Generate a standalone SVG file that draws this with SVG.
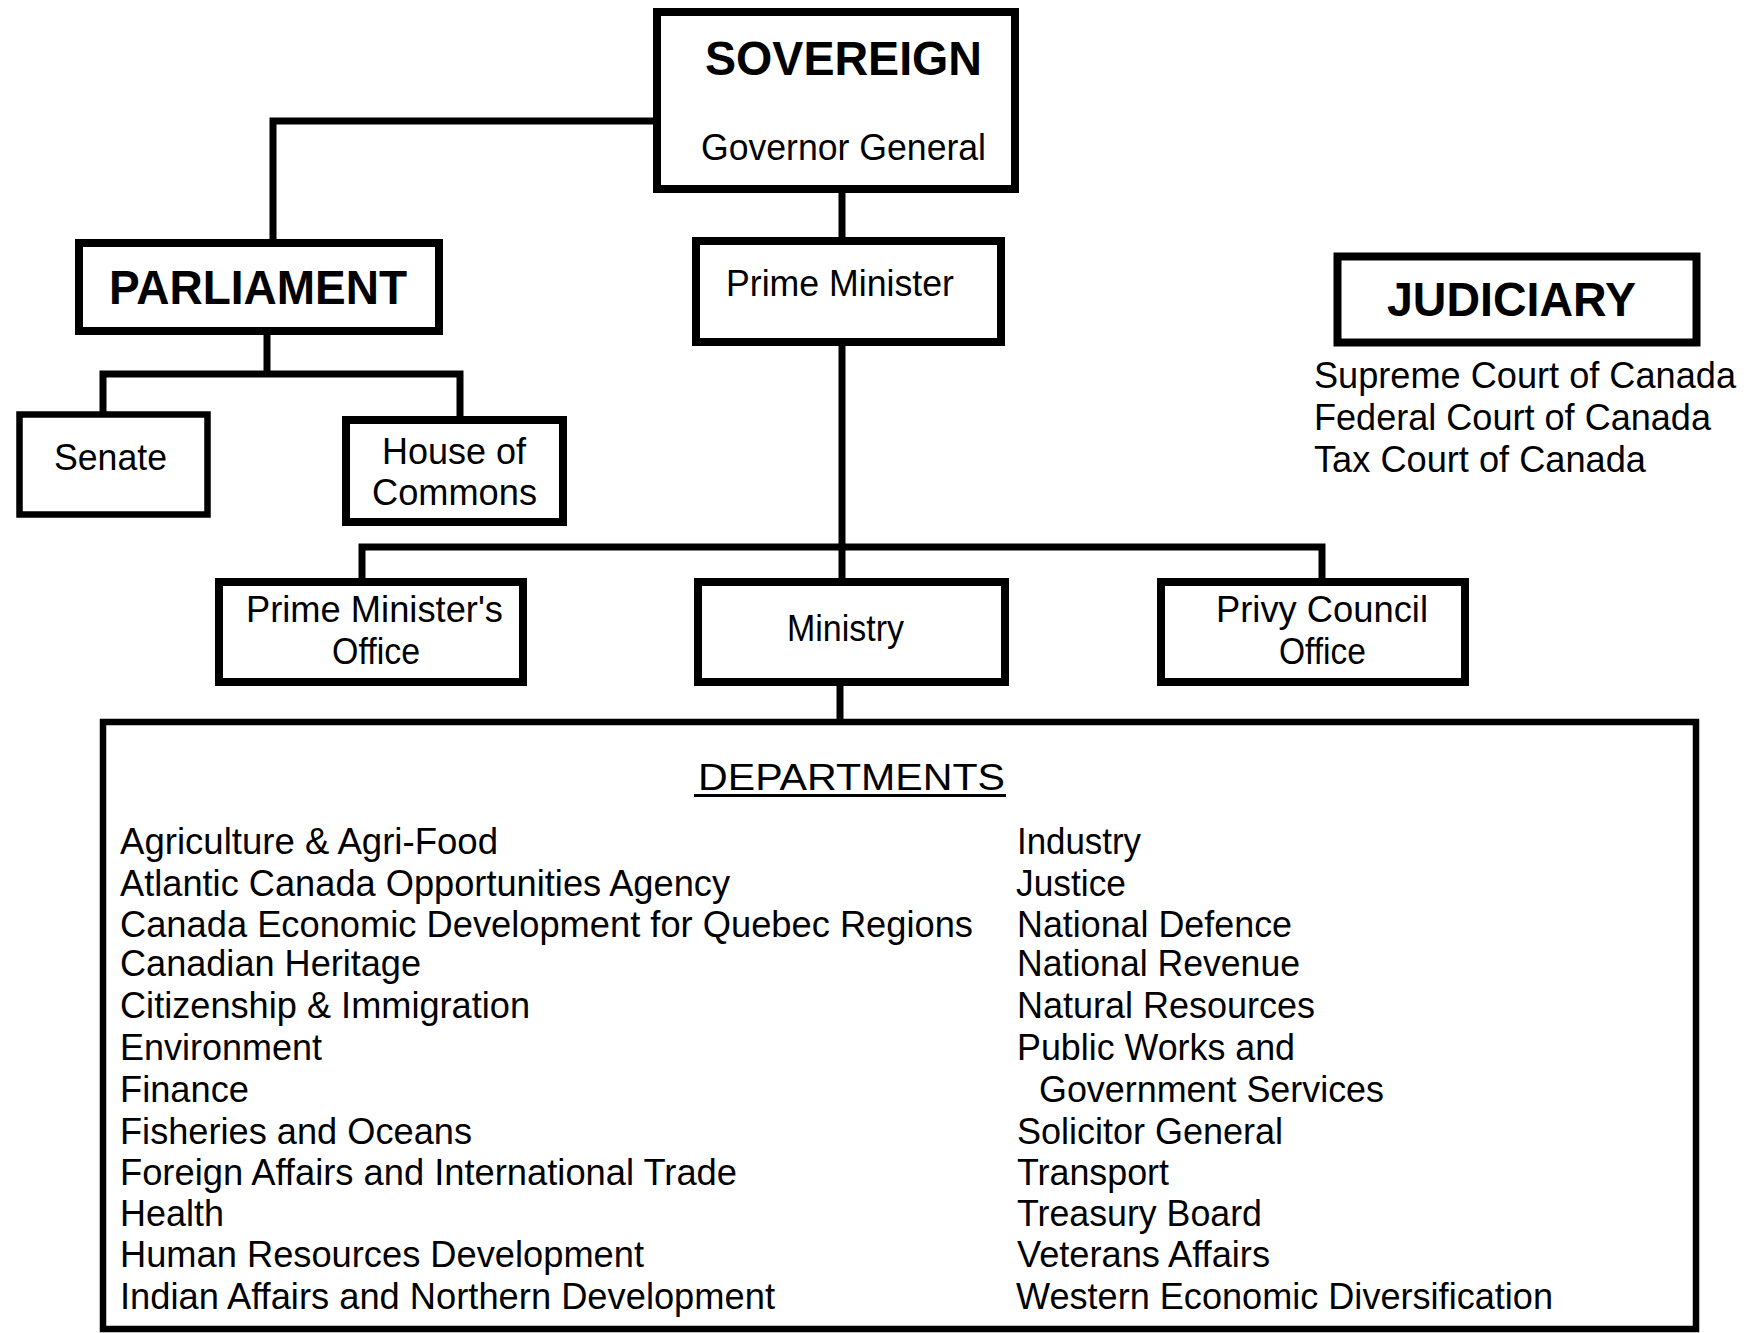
<svg xmlns="http://www.w3.org/2000/svg" width="1758" height="1333" viewBox="0 0 1758 1333">
<style>
.box{fill:#fff;stroke:#000;stroke-width:8}
.thin{stroke-width:6.5}
.conn{fill:none;stroke:#000;stroke-width:7}
text{font-family:"Liberation Sans",Arial,sans-serif;fill:#000}
.t{font-size:36px}
.b{font-size:48px;font-weight:bold}
</style>
<rect width="1758" height="1333" fill="#fff"/>
<g id="connectors">
<path class="conn" d="M657 121 H273 V243"/>
<path class="conn" d="M842 193 V241"/>
<path class="conn" d="M267 335 V374"/>
<path class="conn" d="M103 414 V374 H460 V420"/>
<path class="conn" d="M842 346 V582"/>
<path class="conn" d="M362 582 V547 H1322 V582"/>
<path class="conn" d="M840 686 V722"/>
</g>
<g id="sovereign">
<rect class="box" x="657" y="12" width="358" height="177"/>
<text class="b" x="705" y="75" font-size="46" textLength="277" lengthAdjust="spacingAndGlyphs">SOVEREIGN</text>
<text class="t" x="701" y="160" textLength="285" lengthAdjust="spacingAndGlyphs">Governor General</text>
</g>
<g id="parliament">
<rect class="box" x="79" y="243" width="360" height="88"/>
<text class="b" x="109" y="304" textLength="298" lengthAdjust="spacingAndGlyphs">PARLIAMENT</text>
</g>
<g id="senate">
<rect class="box thin" x="19.5" y="414.5" width="188" height="100"/>
<text class="t" x="54" y="470" textLength="113" lengthAdjust="spacingAndGlyphs">Senate</text>
</g>
<g id="house">
<rect class="box" x="346" y="420" width="217" height="102"/>
<text class="t" x="382" y="464" textLength="144" lengthAdjust="spacingAndGlyphs">House of</text>
<text class="t" x="372" y="505" textLength="165" lengthAdjust="spacingAndGlyphs">Commons</text>
</g>
<g id="prime-minister">
<rect class="box" x="696" y="241" width="305" height="101"/>
<text class="t" x="726" y="296" textLength="228" lengthAdjust="spacingAndGlyphs">Prime Minister</text>
</g>
<g id="judiciary">
<rect class="box" x="1337.5" y="256.5" width="359" height="86"/>
<text class="b" x="1387" y="316" textLength="249" lengthAdjust="spacingAndGlyphs">JUDICIARY</text>
<text class="t" x="1314" y="388" textLength="422" lengthAdjust="spacingAndGlyphs">Supreme Court of Canada</text>
<text class="t" x="1314" y="430" textLength="397" lengthAdjust="spacingAndGlyphs">Federal Court of Canada</text>
<text class="t" x="1314" y="472" textLength="332" lengthAdjust="spacingAndGlyphs">Tax Court of Canada</text>
</g>
<g id="pmo">
<rect class="box" x="219" y="582" width="304" height="100"/>
<text class="t" x="246" y="622" textLength="257" lengthAdjust="spacingAndGlyphs">Prime Minister's</text>
<text class="t" x="332" y="664" textLength="88" lengthAdjust="spacingAndGlyphs">Office</text>
</g>
<g id="ministry">
<rect class="box" x="698" y="582" width="307" height="100"/>
<text class="t" x="787" y="641" textLength="117" lengthAdjust="spacingAndGlyphs">Ministry</text>
</g>
<g id="pco">
<rect class="box" x="1161" y="582" width="304" height="100"/>
<text class="t" x="1216" y="622" textLength="212" lengthAdjust="spacingAndGlyphs">Privy Council</text>
<text class="t" x="1279" y="664" textLength="87" lengthAdjust="spacingAndGlyphs">Office</text>
</g>
<g id="departments">
<rect class="box thin" x="103" y="722" width="1593" height="607"/>
<text class="t" x="698" y="790" textLength="307" lengthAdjust="spacingAndGlyphs">DEPARTMENTS</text>
<rect x="694" y="794" width="312" height="3" fill="#000"/>
<g class="t">
<text class="t" x="120" y="854" textLength="378" lengthAdjust="spacingAndGlyphs">Agriculture &amp; Agri-Food</text>
<text class="t" x="120" y="896" textLength="610" lengthAdjust="spacingAndGlyphs">Atlantic Canada Opportunities Agency</text>
<text class="t" x="120" y="937" textLength="853" lengthAdjust="spacingAndGlyphs">Canada Economic Development for Quebec Regions</text>
<text class="t" x="120" y="976" textLength="301" lengthAdjust="spacingAndGlyphs">Canadian Heritage</text>
<text class="t" x="120" y="1018" textLength="410" lengthAdjust="spacingAndGlyphs">Citizenship &amp; Immigration</text>
<text class="t" x="120" y="1060" textLength="202" lengthAdjust="spacingAndGlyphs">Environment</text>
<text class="t" x="120" y="1102" textLength="129" lengthAdjust="spacingAndGlyphs">Finance</text>
<text class="t" x="120" y="1144" textLength="352" lengthAdjust="spacingAndGlyphs">Fisheries and Oceans</text>
<text class="t" x="120" y="1185" textLength="617" lengthAdjust="spacingAndGlyphs">Foreign Affairs and International Trade</text>
<text class="t" x="120" y="1226" textLength="104" lengthAdjust="spacingAndGlyphs">Health</text>
<text class="t" x="120" y="1267" textLength="524" lengthAdjust="spacingAndGlyphs">Human Resources Development</text>
<text class="t" x="120" y="1309" textLength="655" lengthAdjust="spacingAndGlyphs">Indian Affairs and Northern Development</text>
<text class="t" x="1017" y="854" textLength="124" lengthAdjust="spacingAndGlyphs">Industry</text>
<text class="t" x="1016" y="896" textLength="110" lengthAdjust="spacingAndGlyphs">Justice</text>
<text class="t" x="1017" y="937" textLength="275" lengthAdjust="spacingAndGlyphs">National Defence</text>
<text class="t" x="1017" y="976" textLength="283" lengthAdjust="spacingAndGlyphs">National Revenue</text>
<text class="t" x="1017" y="1018" textLength="298" lengthAdjust="spacingAndGlyphs">Natural Resources</text>
<text class="t" x="1017" y="1060" textLength="278" lengthAdjust="spacingAndGlyphs">Public Works and</text>
<text class="t" x="1039" y="1102" textLength="345" lengthAdjust="spacingAndGlyphs">Government Services</text>
<text class="t" x="1017" y="1144" textLength="266" lengthAdjust="spacingAndGlyphs">Solicitor General</text>
<text class="t" x="1017" y="1185" textLength="152" lengthAdjust="spacingAndGlyphs">Transport</text>
<text class="t" x="1017" y="1226" textLength="245" lengthAdjust="spacingAndGlyphs">Treasury Board</text>
<text class="t" x="1017" y="1267" textLength="253" lengthAdjust="spacingAndGlyphs">Veterans Affairs</text>
<text class="t" x="1016" y="1309" textLength="537" lengthAdjust="spacingAndGlyphs">Western Economic Diversification</text>
</g>
</g>
</svg>
